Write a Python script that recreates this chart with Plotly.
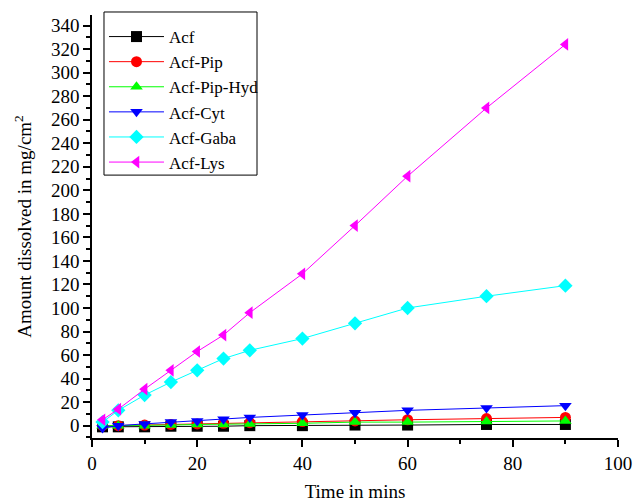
import plotly.graph_objects as go

time_mins = [2, 5, 10, 15, 20, 25, 30, 40, 50, 60, 75, 90]
acf = [-1, -1, -1, -0.5, -0.5, -0.5, 0, 0, 0.5, 0.5, 1, 1]
acf_pip = [0, 0, 0.5, 1, 1.5, 2, 2.5, 3.5, 4, 5, 6, 7]
acf_pip_hyd = [0, 0, 0, 0.5, 1, 1, 1.5, 2, 3, 3, 3.5, 4]
acf_cyt = [-2, 0, 1.5, 3, 4, 5.5, 7, 9, 11, 13, 15, 17]
acf_gaba = [3, 13, 26, 37, 47, 57, 64, 74, 87, 100, 110, 119]
acf_lys = [5, 14, 31, 47, 63, 77, 96, 129, 170, 212, 270, 324]

series = [
    ("Acf", acf, "black", "square"),
    ("Acf-Pip", acf_pip, "red", "circle"),
    ("Acf-Pip-Hyd", acf_pip_hyd, "#00ff00", "triangle-up"),
    ("Acf-Cyt", acf_cyt, "blue", "triangle-down"),
    ("Acf-Gaba", acf_gaba, "cyan", "diamond"),
    ("Acf-Lys", acf_lys, "magenta", "triangle-left"),
]

fig = go.Figure()
for name, vals, color, sym in series:
    fig.add_trace(go.Scatter(
        x=time_mins, y=vals, name=name, mode="lines+markers",
        line=dict(color=color, width=1),
        marker=dict(symbol=sym, size=11, color=color),
    ))

axis_common = dict(
    showline=True, linecolor="black", linewidth=1.5, mirror=False,
    ticks="outside", tickcolor="black", tickwidth=1.5, ticklen=7,
    showgrid=False, zeroline=False, automargin=False,
    tickfont=dict(family="Liberation Serif", size=19, color="black"),
)

fig.update_layout(
    width=634, height=503,
    margin=dict(l=92, r=16, t=15, b=65, autoexpand=False),
    paper_bgcolor="white", plot_bgcolor="white",
    font=dict(family="Liberation Serif", color="black"),
    xaxis=dict(range=[0, 100], dtick=20,
               title=dict(text="Time in mins", font=dict(size=19), standoff=12),
               minor=dict(dtick=10, ticks="outside", ticklen=4, tickcolor="black", tickwidth=1.5),
               **axis_common),
    yaxis=dict(range=[-10.5, 349], dtick=20,
               title=dict(text="Amount dissolved in mg/cm<sup>2</sup>", font=dict(size=19), standoff=14),
               minor=dict(dtick=10, ticks="outside", ticklen=4, tickcolor="black", tickwidth=1.5),
               **axis_common),
    legend=dict(x=0.0228, y=0.9905, xanchor="left", yanchor="top",
                borderwidth=0, bgcolor="rgba(0,0,0,0)",
                font=dict(family="Liberation Serif", size=17, color="black"),
                itemwidth=55, tracegroupgap=0),
    shapes=[dict(type="rect", xref="paper", yref="paper",
                 x0=0.0228, x1=0.3137, y0=0.6215, y1=1.0071,
                 line=dict(color="black", width=1), fillcolor="white", layer="below")],
    showlegend=True,
)

fig.write_html("out.html", config={"displayModeBar": False},
               post_script="document.body.style.margin='0';")
